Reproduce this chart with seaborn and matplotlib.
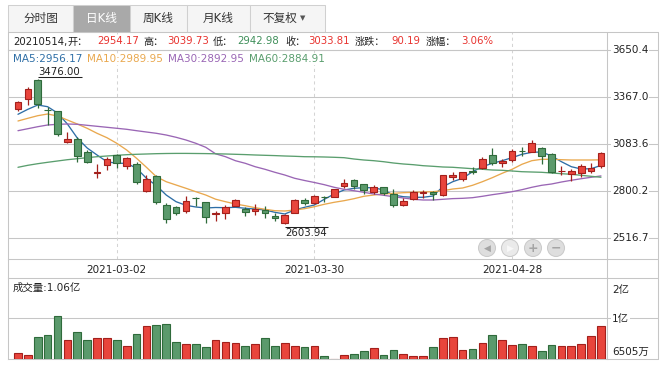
import numpy as np
import matplotlib
matplotlib.use("Agg")
import matplotlib.pyplot as plt
from matplotlib.patches import Rectangle, Circle
import seaborn as sns

# ---- values (daily K, 2021-02-09 .. 2021-05-14) ----
dates = ["2021-03-02", "2021-03-30", "2021-04-28"]
date_pos = [10, 30, 50]

opens = [3294.7, 3355.0, 3470.0, 3290.4, 3284.4, 3099.3, 3113.8, 3039.0, 2910.0, 2957.0,
         3019.1, 2954.6, 2964.8, 2803.8, 2892.4, 2717.0, 2703.7, 2683.2, 2761.6, 2734.3,
         2666.0, 2667.6, 2713.3, 2693.5, 2681.5, 2687.5, 2651.2, 2610.8, 2671.2, 2747.7,
         2727.7, 2767.6, 2764.0, 2830.3, 2866.5, 2842.4, 2794.2, 2824.3, 2783.9, 2719.4,
         2751.9, 2788.0, 2797.8, 2778.0, 2884.6, 2872.5, 2922.6, 2938.9, 3017.3, 2969.0,
         2988.9, 3045.0, 3039.0, 3059.5, 3025.1, 2921.0, 2902.7, 2912.3, 2924.5, 2954.17]
highs = [3344.7, 3427.0, 3476.0, 3310.0, 3287.0, 3156.0, 3129.4, 3049.2, 2963.0, 3008.8,
         3025.0, 3004.0, 2975.0, 2898.5, 2898.5, 2731.4, 2711.5, 2771.8, 2767.6, 2736.0,
         2681.5, 2717.6, 2755.6, 2703.7, 2723.6, 2711.5, 2667.6, 2663.0, 2752.0, 2761.6,
         2776.0, 2771.8, 2814.0, 2872.5, 2872.5, 2847.0, 2836.4, 2828.0, 2812.3, 2758.0,
         2806.0, 2806.0, 2800.0, 2898.5, 2918.4, 2918.0, 2944.9, 3008.8, 3059.5, 2993.1,
         3053.5, 3069.0, 3109.5, 3065.5, 3029.3, 2952.7, 2932.8, 2964.8, 2972.6, 3039.73]
lows = [3284.4, 3320.6, 3300.7, 3200.0, 3135.5, 3089.6, 2975.1, 2969.0, 2882.2, 2928.6,
        2938.9, 2932.8, 2842.4, 2797.8, 2721.8, 2607.2, 2657.3, 2671.2, 2711.5, 2607.2,
        2623.0, 2631.4, 2713.0, 2653.0, 2657.3, 2637.4, 2623.0, 2603.94, 2668.0, 2717.6,
        2723.6, 2737.5, 2763.0, 2818.3, 2812.3, 2783.9, 2783.9, 2777.9, 2707.4, 2711.5,
        2747.7, 2758.0, 2747.7, 2770.0, 2868.4, 2864.0, 2904.5, 2934.7, 2958.8, 2944.9,
        2978.7, 3014.9, 3035.4, 2963.0, 2910.6, 2898.5, 2862.3, 2884.6, 2908.7, 2942.98]
closes = [3336.9, 3415.3, 3324.8, 3288.0, 3143.9, 3113.8, 3011.2, 2978.7, 2914.0, 2993.1,
          2969.0, 2999.2, 2854.5, 2874.4, 2737.5, 2633.0, 2671.2, 2743.5, 2757.0, 2643.9,
          2669.0, 2707.4, 2747.7, 2673.6, 2695.3, 2667.6, 2637.4, 2657.3, 2747.7, 2731.4,
          2771.8, 2763.0, 2812.3, 2848.4, 2834.0, 2808.0, 2824.3, 2791.8, 2719.4, 2739.9,
          2797.8, 2797.8, 2783.9, 2898.5, 2898.5, 2914.8, 2918.0, 2993.1, 2969.0, 2984.7,
          3045.0, 3041.0, 3089.6, 3014.9, 2914.8, 2924.0, 2922.6, 2954.6, 2943.62, 3033.81]
# volume in 亿 (axis floor is the 6505万 minimum)
volumes = [0.722, 0.696, 0.922, 0.947, 1.186, 0.885, 0.985, 0.885, 0.910, 0.910,
           0.885, 0.809, 0.960, 1.060, 1.073, 1.085, 0.860, 0.834, 0.834, 0.797,
           0.885, 0.860, 0.847, 0.809, 0.834, 0.910, 0.809, 0.847, 0.809, 0.797,
           0.809, 0.684, 0.655, 0.696, 0.709, 0.751, 0.784, 0.696, 0.759, 0.709,
           0.684, 0.684, 0.797, 0.910, 0.922, 0.759, 0.772, 0.847, 0.947, 0.885,
           0.822, 0.834, 0.809, 0.747, 0.822, 0.809, 0.809, 0.834, 0.935, 1.060]
vol_floor = 0.6505

ma5 = [3264.5, 3294.6, 3320.5, 3310.3, 3272.3, 3206.0, 3121.6, 3061.3, 3019.0, 2978.6,
       2969.0, 2969.0, 2938.9, 2878.6, 2835.1, 2777.8, 2737.4, 2715.7, 2705.5, 2699.5,
       2702.5, 2701.3, 2703.7, 2697.7, 2693.4, 2687.4, 2673.5, 2663.3, 2687.4, 2703.7,
       2717.5, 2751.9, 2783.9, 2808.0, 2818.3, 2821.9, 2821.9, 2808.0, 2777.8, 2767.6,
       2764.0, 2764.0, 2771.8, 2827.9, 2858.0, 2878.6, 2918.3, 2948.5, 2969.0, 2984.7,
       3002.8, 3023.3, 3035.3, 3037.1, 3013.0, 2978.6, 2948.5, 2934.6, 2936.4, 2956.17]
ma10 = [3224.1, 3240.4, 3256.0, 3266.3, 3254.2, 3230.1, 3206.0, 3180.1, 3149.9, 3123.4,
        3089.6, 3049.2, 2999.2, 2944.9, 2888.2, 2858.0, 2838.1, 2818.3, 2797.7, 2777.8,
        2752.5, 2737.4, 2723.6, 2713.3, 2701.3, 2691.6, 2683.2, 2681.4, 2687.4, 2695.2,
        2707.3, 2721.8, 2733.8, 2743.5, 2755.5, 2770.0, 2777.8, 2783.9, 2788.1, 2791.7,
        2794.1, 2796.0, 2797.7, 2803.8, 2814.0, 2820.1, 2836.3, 2858.0, 2882.2, 2908.7,
        2932.8, 2963.0, 2984.7, 2993.1, 2993.1, 2990.7, 2988.9, 2988.9, 2988.9, 2989.95]
ma30 = [3165.6, 3177.6, 3189.7, 3199.9, 3204.2, 3206.0, 3204.2, 3198.1, 3192.1, 3186.1,
        3180.1, 3174.0, 3165.6, 3157.7, 3149.9, 3139.6, 3125.8, 3109.5, 3089.6, 3065.5,
        3026.3, 3008.8, 2984.7, 2969.0, 2948.5, 2932.8, 2914.7, 2898.4, 2878.6, 2865.3,
        2853.2, 2840.0, 2824.3, 2812.2, 2803.8, 2794.1, 2783.9, 2776.0, 2767.6, 2759.8,
        2751.9, 2747.7, 2747.7, 2751.9, 2756.0, 2757.8, 2761.6, 2770.0, 2779.7, 2788.1,
        2797.7, 2809.8, 2824.3, 2836.3, 2844.2, 2856.2, 2866.5, 2876.1, 2884.6, 2892.95]
ma60 = [2944.9, 2956.9, 2966.6, 2975.0, 2982.9, 2990.7, 2996.7, 3002.8, 3008.8, 3013.0,
        3017.2, 3020.9, 3023.3, 3025.1, 3027.0, 3028.1, 3028.7, 3028.7, 3028.1, 3027.5,
        3026.3, 3025.1, 3023.3, 3021.5, 3019.1, 3017.2, 3015.4, 3013.0, 3011.2, 3008.8,
        3008.2, 3007.0, 3005.2, 3002.8, 2994.9, 2988.9, 2984.7, 2978.6, 2970.8, 2964.8,
        2960.6, 2954.5, 2950.9, 2946.7, 2944.9, 2940.7, 2936.4, 2932.8, 2928.6, 2926.8,
        2922.6, 2918.3, 2916.5, 2914.7, 2910.5, 2906.3, 2902.6, 2896.6, 2890.5, 2884.91]

price_ticks = [2516.7, 2800.2, 3083.6, 3367.0, 3650.4]
vol_labels = ["2亿", "1亿", "6505万"]
tab_names = ["分时图", "日K线", "周K线", "月K线", "不复权"]

# ---- colours ----
RED, RED_DK = "#e8453c", "#a3201c"
GREEN, GREEN_DK = "#5b9a6c", "#2f6b3b"
MA_COLORS = ["#2e6ea6", "#e9a84e", "#9a66b5", "#5a9e6e"]
TXT = "#222222"
HDR_RED, HDR_GREEN = "#e8322e", "#3f8f5a"
GRID = "#c6c6c6"
DASH = "#d4d4d4"

sns.set_style("white")
plt.rcParams["font.family"] = ["DejaVu Sans", "Noto Sans CJK SC"]

W, H = 664, 366
fig = plt.figure(figsize=(W / 100, H / 100), dpi=100)


def box(x0, y0, x1, y1):
    return [x0 / W, 1 - y1 / H, (x1 - x0) / W, (y1 - y0) / H]


ax = fig.add_axes(box(8, 50, 607, 259))
axv = fig.add_axes(box(8, 278, 607, 359))
over = fig.add_axes([0, 0, 1, 1], zorder=10)
over.set_xlim(0, W)
over.set_ylim(H, 0)
over.axis("off")
over.patch.set_alpha(0)

idx = np.arange(len(opens))
o, h, l, c = map(np.asarray, (opens, highs, lows, closes))
up = c >= o
face = np.where(up, RED, GREEN)
edge = np.where(up, RED_DK, GREEN_DK)

xlim = (-1.01, 59.61)
ylim = (2391.9, 3652.2)
px = (ylim[1] - ylim[0]) / 209.0   # price per pixel
ext = (658 - 8) / (607 - 8)         # right edge of frame in axes units

# moving averages
for vals, col in zip([ma5, ma10, ma30, ma60], MA_COLORS):
    sns.lineplot(x=idx, y=vals, ax=ax, color=col, linewidth=0.95, zorder=2)

# candles
ax.vlines(idx, l, h, colors=edge, linewidth=0.9, zorder=3)
ax.bar(idx, np.maximum(np.abs(c - o), 3), bottom=np.minimum(o, c), width=0.68,
       color=face, edgecolor=edge, linewidth=0.8, zorder=4)

ax.set_xlim(*xlim)
ax.set_ylim(*ylim)
for v in price_ticks:
    ax.axhline(v, 0, ext, color=GRID, linewidth=0.75, clip_on=False, zorder=1)
    ax.text(1.0083, v, f"{v:.1f}", transform=ax.get_yaxis_transform(), ha="left",
            va="center", fontsize=7.5, color=TXT, zorder=6,
            bbox=dict(fc="white", ec="none", pad=0.6))
for p in date_pos:
    ax.axvline(p, 0, (259 - 31.7) / 209, color=DASH, linewidth=0.75,
               linestyle=(0, (3, 3)), clip_on=False, zorder=1)
ax.set_yticks([])
ax.set_xticks(date_pos, dates)
ax.tick_params(axis="x", length=0, pad=4.5, labelsize=7.5, labelcolor=TXT)
for s in ax.spines.values():
    s.set_color(GRID)
    s.set_linewidth(0.75)

# highest / lowest marks
ih, il = int(np.argmax(h)), int(np.argmin(l))
ax.hlines(h[ih] + 2.5 * px, ih, ih + 4.45, color=TXT, linewidth=0.75, zorder=5)
ax.text(ih, h[ih] + 4.2 * px, f"{h[ih]:.2f}", ha="left", va="baseline",
        fontsize=7.3, color=TXT, zorder=5)
ax.hlines(l[il] - 3 * px, il, il + 4.35, color=TXT, linewidth=0.75, zorder=5)
ax.text(il, l[il] - 4.5 * px, f"{l[il]:.2f}", ha="left", va="top",
        fontsize=7.3, color=TXT, zorder=5)

# volume
vol = np.asarray(volumes)
axv.bar(idx, vol - vol_floor, bottom=vol_floor, width=0.78, color=face,
        edgecolor=edge, linewidth=0.8, zorder=3)
axv.set_xlim(*xlim)
axv.set_ylim(vol_floor, 1.662)
axv.axhline(1.1625, 0, ext, color=GRID, linewidth=0.75, clip_on=False, zorder=1)
axv.set_xticks([])
axv.set_yticks([])
for s in axv.spines.values():
    s.set_color(GRID)
    s.set_linewidth(0.75)
for lab, fr in zip(vol_labels, [0.858, 0.488, 0.09]):
    axv.text(1.0083, fr, lab, transform=axv.transAxes, ha="left", va="center",
             fontsize=7.5, color=TXT, bbox=dict(fc="white", ec="none", pad=0.6))
axv.text(0.0083, 0.883, f"成交量:{vol[-1]:.2f}亿", transform=axv.transAxes,
         ha="left", va="center", fontsize=7.5, color=TXT)

# ---- frame pieces outside the two plot areas ----
lk = dict(color=GRID, linewidth=0.75)
over.plot([8, 658], [31.7, 31.7], **lk)
over.plot([658, 658], [31.7, 359], **lk)
over.plot([8, 8], [31.7, 50], **lk)
over.plot([607, 607], [31.7, 50], **lk)
over.plot([607, 607], [259, 278], **lk)
over.plot([8, 8], [259, 278], **lk)
for yy in (259, 278, 359):
    over.plot([607, 658], [yy, yy], **lk)

# tabs
tab_edges = [8, 73, 130, 187, 250, 325]
for k, name in enumerate(tab_names):
    x0, x1 = tab_edges[k], tab_edges[k + 1]
    sel = k == 1
    over.add_patch(Rectangle((x0, 5), x1 - x0, 26.7, fc="#a9a9a9" if sel else "#f5f5f5",
                             ec="#d0d0d0", lw=0.75))
    cx = (x0 + x1) / 2 if k < 4 else 279.5
    over.text(cx, 18.3, name, ha="center", va="center", fontsize=8.4,
              color="white" if sel else "#333333")
over.text(303, 18.5, "▼", ha="center", va="center", fontsize=5, color="#555555")

# header line
prev = closes[-2]
chg = closes[-1] - prev
segs = [(13, "20210514,", TXT), (67, "开：", TXT), (97, f"{opens[-1]:.2f}", HDR_RED),
        (143, "高：", TXT), (167, f"{highs[-1]:.2f}", HDR_RED),
        (213, "低：", TXT), (237, f"{lows[-1]:.2f}", HDR_GREEN),
        (285, "收：", TXT), (308, f"{closes[-1]:.2f}", HDR_RED),
        (355, "涨跌：", TXT), (391, f"{chg:.2f}", HDR_RED),
        (426, "涨幅：", TXT), (461, f"{chg / prev * 100:.2f}%", HDR_RED)]
for x, s, col in segs:
    over.text(x, 41.5, s, ha="left", va="center", fontsize=7.3, color=col,
              bbox=dict(fc="white", ec="none", pad=0.3))

ma_txt = [(13, f"MA5:{ma5[-1]:.2f}"), (87, f"MA10:{ma10[-1]:.2f}"),
          (168, f"MA30:{ma30[-1]:.2f}"), (249, f"MA60:{ma60[-1]:.2f}")]
for (x, s), col in zip(ma_txt, MA_COLORS):
    over.text(x, 59.5, s, ha="left", va="center", fontsize=7.5, color=col,
              bbox=dict(fc="white", ec="none", pad=0.3))

# navigation buttons
for k, (x, g) in enumerate(zip([487, 510, 533, 556], ["◀", "▶", "+", "−"])):
    over.add_patch(Circle((x, 248), 8.5, fc="#eaeaea" if k == 1 else "#dedede",
                          ec="#cbcbcb", lw=0.75))
    over.text(x, 248, g, ha="center", va="center", fontsize=6.5 if k < 2 else 9,
              color="#f8f8f8" if k == 1 else "#a4a4a4", fontweight="bold")

fig.savefig("out.png", dpi=100)
